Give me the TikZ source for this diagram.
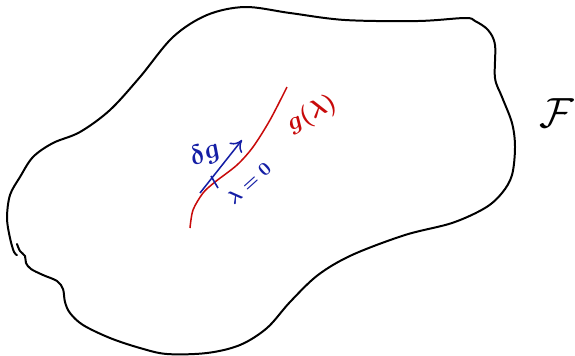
\documentclass[tikz,border=0pt]{standalone}
\usepackage{amsmath}
\usepackage{amssymb}
\usetikzlibrary{arrows.meta}

\definecolor{penred}{RGB}{200,10,10}
\definecolor{penblue}{RGB}{20,30,165}

\begin{document}
\begin{tikzpicture}[
    x=0.3mm, y=-0.3mm,
    every node/.style={inner sep=1pt},
    pen/.style={font=\boldmath},
    blob/.style={line width=1.7pt, line cap=round, line join=round},
    curve/.style={penred, line width=1.3pt},
    vec/.style={penblue, line width=1.3pt, -{To[length=3.2mm,width=4.8mm]}}
]
\useasboundingbox (0,0) rectangle (575,355);

% the set
\draw[blob] plot[smooth, tension=0.55] coordinates {
  (17,244) (20,251) (25,256) (26,263) (31,269) (43,275) (57,281) (63,289)
  (65,302) (70,313) (83,325) (110,338) (140,348) (167,354) (207,353)
  (240,345) (267,328) (290,302) (318,275) (352,255) (405,235) (452,223)
  (485,208) (502,193) (512,175) (515,147) (512,123) (502,97) (495,78)
  (495,45) (488,30) (475,21) (465,18) (418,21) (345,20) (290,13) (245,7)
  (207,15) (173,37) (140,77) (110,110) (80,132) (53,143) (33,157) (20,177)
  (10,195) (7,218) (10,238) (14,252) (17,255)};

% the path g(lambda)
\draw[curve] plot[smooth] coordinates {
  (190,228) (193,210) (203,193) (215,182) (237,165) (253,147) (270,120) (287,87)};

\coordinate (tail) at (200,193);
\coordinate (tip) at (242,140);
\coordinate (tickA) at (211,176);
\coordinate (tickB) at (218,188);

\draw[vec] (tail) -- (tip);
\draw[penblue, line width=1.4pt] (tickA) -- (tickB);

\node[pen, penblue, rotate=25, scale=2.3] (dg) at (205,154) {$\delta g$};
\node[pen, penblue, rotate=42, scale=1.6] (lam0) at (249,183) {$\lambda=0$};
\node[pen, penred, rotate=28, scale=2.1] (glam) at (312,114) {$g(\lambda)$};
\node[scale=3.6] (fam) at (557,113) {$\mathcal{F}$};
\end{tikzpicture}
\end{document}
